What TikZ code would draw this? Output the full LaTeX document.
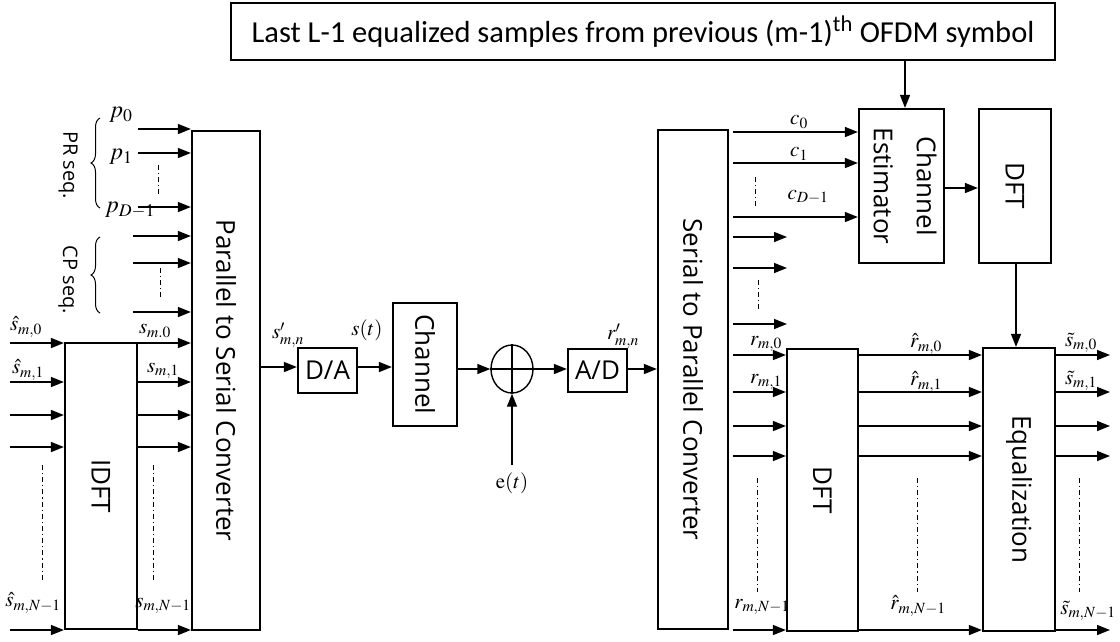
\documentclass[tikz,border=0pt]{standalone}
\usepackage{mathptmx}
\usepackage{fontspec}
\usepackage{amsmath}
\usetikzlibrary{arrows.meta,positioning,shapes.geometric,decorations.pathreplacing,calc}
\newfontfamily\blkfont{Open Sans}
\newfontfamily\capfont{Carlito}
\tikzset{
  blk/.style={draw,line width=2.2pt,inner sep=0pt,
    font=\blkfont\fontsize{26}{31}\selectfont,align=center},
  arr/.style={-{Triangle[length=13pt,width=10pt]},line width=1.4pt},
  lbl/.style={inner sep=0pt,font=\fontsize{21}{25}\selectfont},
  lblp/.style={lbl,font=\fontsize{24}{28}\selectfont},
  seq/.style={inner sep=0pt,font=\blkfont\fontsize{20}{24}\selectfont},
  vdots/.style={line width=1pt,dash pattern=on 5pt off 3pt on 1.2pt off 3pt},
  brc/.style={decorate,decoration={brace,amplitude=9pt},line width=1pt},
}

\begin{document}
\begin{tikzpicture}[x=1pt,y=-1pt]
  \useasboundingbox (0,0) rectangle (1120,641);
  % top box
  \node[blk,minimum width=824pt,minimum height=57pt,
        font=\capfont\fontsize{30.5}{36}\selectfont] (topbox) at (643,31.5)
    {Last L-1 equalized samples from previous (m-1)\textsuperscript{th} OFDM symbol};
  % transmitter
  \node[blk,minimum width=72pt,minimum height=286pt] (idft) at (101,486)
    {\rotatebox{-90}{IDFT}};
  \node[blk,minimum width=68pt,minimum height=499pt] (ptos) at (226,380.5)
    {\rotatebox{-90}{Parallel to Serial Converter}};
  \node[blk,minimum width=59pt,minimum height=45pt] (da) at (327.5,370.5) {D/A};
  \node[blk,minimum width=64pt,minimum height=123pt] (chan) at (425,364.5)
    {\rotatebox{-90}{Channel}};
  \node[draw,ellipse,line width=1.4pt,minimum width=42pt,minimum height=48pt,
        inner sep=0pt] (sum) at (512,369) {};
  \draw[line width=1.4pt] (sum.north) -- (sum.south);
  \draw[line width=1.4pt] (sum.west) -- (sum.east);
  \node[blk,minimum width=59pt,minimum height=43pt] (ad) at (597.5,370.5) {A/D};
  % receiver
  \node[blk,minimum width=70pt,minimum height=499pt] (stop) at (693,379.5)
    {\rotatebox{-90}{Serial to Parallel Converter}};
  \node[blk,minimum width=85pt,minimum height=154pt] (chest) at (901.5,186)
    {\rotatebox{-90}{\begin{tabular}{@{}c@{}}Channel\\[12pt]Estimator\end{tabular}}};
  \node[blk,minimum width=72pt,minimum height=154pt] (dftb) at (1015,186)
    {\rotatebox{-90}{DFT}};
  \node[blk,minimum width=71pt,minimum height=282pt] (dft) at (822.5,490)
    {\rotatebox{-90}{DFT}};
  \node[blk,minimum width=72pt,minimum height=283pt] (eq) at (1019,489.5)
    {\rotatebox{-90}{Equalization}};

  % parallel branches left
  \foreach \y in {343,382,415,447,630}{
    \coordinate (sin) at (10,\y);
    \draw[arr] (sin) -- (sin -| idft.west);
    \draw[arr] (idft.east |- sin) -- (ptos.west |- sin);
  }
  \foreach \y in {129,153,207}{
    \coordinate (pin) at (138,\y);
    \draw[arr] (pin) -- (pin -| ptos.west);
  }
  \foreach \y in {236,263,312}{
    \coordinate (cpin) at (133,\y);
    \draw[arr] (cpin) -- (cpin -| ptos.west);
  }
  % serial chain
  \draw[arr] (ptos.east |- 0,367) -- (da.west |- 0,367);
  \draw[arr] (da.east |- 0,367) -- (chan.west |- 0,367);
  \draw[arr] (chan.east |- sum) -- (sum.west);
  \coordinate (noise) at (512,465);
  \draw[arr] (noise) -- (sum.south);
  \draw[arr] (sum.east) -- (ad.west |- sum);
  \draw[arr] (ad.east |- sum) -- (stop.west |- sum);
  % receiver branches
  \draw[arr] (topbox.south -| 905,0) -- (chest.north -| 905,0);
  \foreach \y in {132,163,217}
    \draw[arr] ([xshift=4pt]stop.east |- 0,\y) -- (chest.west |- 0,\y);
  \foreach \y in {237,268,324}{
    \coordinate (rfree) at (787,\y);
    \draw[arr] ([xshift=4pt]stop.east |- rfree) -- (rfree);
  }
  \foreach \y in {355,392,426,456,630}{
    \draw[arr] ([xshift=4pt]stop.east |- 0,\y) -- (dft.west |- 0,\y);
    \draw[arr] (dft.east |- 0,\y) -- (eq.west |- 0,\y);
    \coordinate (sout) at (1110,\y);
    \draw[arr] (eq.east |- sout) -- (sout);
  }
  \draw[arr] (chest.east |- 0,188) -- (dftb.west |- 0,188);
  \draw[arr] (dftb.south -| 1016,0) -- (eq.north -| 1016,0);

  % dots
  \foreach \x/\ya/\yb in {42/465/580,153/465/580,158/165/195,160/268/298,
      755/177/207,758/280/310,757/478/592,917/478/592,1079/478/592}
    \draw[vdots] (\x,\ya) -- (\x,\yb);

  % braces
  \draw[brc] (100,208) -- (100,118);
  \draw[brc] (100,313) -- (100,237);
  \node[seq] (prlbl) at (68,165) {\rotatebox{-90}{PR seq.}};
  \node[seq] (cplbl) at (68,280) {\rotatebox{-90}{CP seq.}};

  % labels
  \node[lblp] (lp0) at (121,115) {$p_0$};
  \node[lblp] (lp1) at (121,157) {$p_1$};
  \node[lblp] (lpd) at (130,210) {$p_{D-1}$};
  \node[lbl] (lsh0) at (26,327) {$\hat{s}_{m,0}$};
  \node[lbl] (lsh1) at (28,370) {$\hat{s}_{m,1}$};
  \node[lbl] (lshn) at (33,603) {$\hat{s}_{m,N-1}$};
  \node[lbl] (ls0) at (155,331) {$s_{m.0}$};
  \node[lbl] (ls1) at (163,371) {$s_{m,1}$};
  \node[lbl] (lsn) at (163,606) {$s_{m,N-1}$};
  \node[lbl] (lsp) at (288,335) {$s'_{m,n}$};
  \node[lbl] (lst) at (367,330) {$s(t)$};
  \node[lbl] (let) at (512,483) {$\mathrm{e}(t)$};
  \node[lbl] (lrp) at (623,336) {$r'_{m,n}$};
  \node[lbl] (lc0) at (799,122) {$c_0$};
  \node[lbl] (lc1) at (799,154) {$c_1$};
  \node[lbl] (lcd) at (808,197) {$c_{D-1}$};
  \node[lbl] (lr0) at (766,344) {$r_{m,0}$};
  \node[lbl] (lr1) at (766,382) {$r_{m,1}$};
  \node[lbl] (lrn) at (762,607) {$r_{m,N-1}$};
  \node[lbl] (lrh0) at (926,344) {$\hat{r}_{m,0}$};
  \node[lbl] (lrh1) at (926,382) {$\hat{r}_{m,1}$};
  \node[lbl] (lrhn) at (918,606) {$\hat{r}_{m,N-1}$};
  \node[lbl] (lst0) at (1081,343) {$\tilde{s}_{m,0}$};
  \node[lbl] (lst1) at (1081,381) {$\tilde{s}_{m,1}$};
  \node[lbl] (lstn) at (1088,611) {$\tilde{s}_{m,N-1}$};
\end{tikzpicture}
\end{document}
